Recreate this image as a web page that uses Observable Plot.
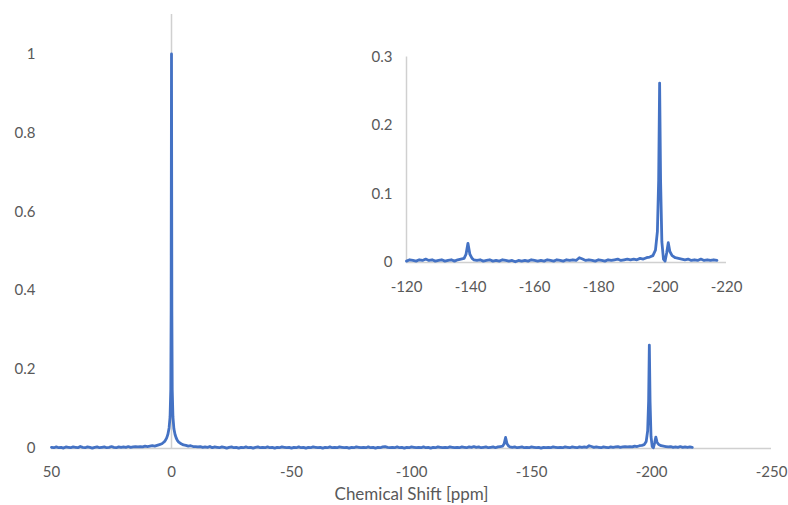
<!DOCTYPE html>
<html><head><meta charset="utf-8">
<script src="https://cdn.jsdelivr.net/npm/d3@7"></script>
<script src="https://cdn.jsdelivr.net/npm/@observablehq/plot@0.6"></script>
<style>
body{margin:0;background:#fff;}
#wrap{position:relative;width:788px;height:505px;}
#main{position:absolute;left:0;top:0;}
#inset{position:absolute;left:360px;top:30px;}
</style></head><body><div id="wrap"><div id="main"></div><div id="inset"></div></div>
<script>
// Chemical shift (ppm) sampled along the spectrum
const shift = [
  50,49,48,47,46,45,44,43,42,41,
  40,39,38,37,36,35,34,33,32,31,
  30,29,28,27,26,25,24,23,22,21,
  20,19,18,17,16,15,14,13,12,11,
  10,9,8,7,6,5,4,3,2.5,2,
  1.5,1,0.6,0.3,0.15,0,-0.15,-0.3,-0.6,-1,
  -1.5,-2,-2.5,-3,-4,-5,-6,-7,-8,-9,
  -10,-11,-12,-13,-14,-15,-16,-17,-18,-19,
  -20,-21,-22,-23,-24,-25,-26,-27,-28,-29,
  -30,-31,-32,-33,-34,-35,-36,-37,-38,-39,
  -40,-41,-42,-43,-44,-45,-46,-47,-48,-49,
  -50,-51,-52,-53,-54,-55,-56,-57,-58,-59,
  -60,-61,-62,-63,-64,-65,-66,-67,-68,-69,
  -70,-71,-72,-73,-74,-75,-76,-77,-78,-79,
  -80,-81,-82,-83,-84,-85,-86,-87,-88,-89,
  -90,-91,-92,-93,-94,-95,-96,-97,-98,-99,
  -100,-101,-102,-103,-104,-105,-106,-107,-108,-109,
  -110,-111,-112,-113,-114,-115,-116,-117,-118,-119,
  -120,-121,-122,-123,-124,-125,-126,-127,-128,-129,
  -130,-131,-132,-133,-134,-135,-136,-137,
  -138,-138.6,-139.2,-139.8,-140.5,-141,
  -142,-143,-144,-145,-146,-147,-148,-149,-150,-151,
  -152,-153,-154,-155,-156,-157,-158,-159,-160,-161,
  -162,-163,-164,-165,-166,-167,-168,-169,-170,-171,
  -172,-173,-174,-175,-176,-177,-178,-179,-180,-181,
  -182,-183,-184,-185,-186,-187,-188,-189,-190,-191,
  -192,-193,-194,-195,-196,
  -197,-197.8,-198.4,-198.8,-199.1,-199.4,-199.8,-200.3,-200.8,-201.3,
  -201.8,-202.3,-203,-204,-205,-206,-207,-208,-209,-210,
  -211,-212,-213,-214,-215,-216,-217
];
// Normalised intensity
const intensity = [
  .003,.002,.004,.002,.003,.001,.004,.003,.002,.004,
  .003,.002,.005,.003,.002,.004,.003,.001,.003,.004,
  .002,.003,.004,.002,.003,.005,.003,.002,.004,.003,
  .004,.003,.005,.003,.004,.005,.004,.005,.004,.006,
  .005,.006,.007,.006,.008,.010,.012,.017,.021,.027,
  .036,.052,.080,.150,.350,1.000,.350,.150,.080,.050,
  .035,.026,.020,.016,.012,.009,.008,.006,.007,.005,
  .005,.004,.005,.003,.004,.003,.005,.002,.004,.003,
  .002,.004,.003,.001,.003,.004,.002,.003,.001,.003,
  .002,.004,.002,.003,.001,.003,.004,.002,.003,.002,
  .004,.002,.003,.001,.003,.002,.004,.003,.002,.003,
  .001,.003,.002,.004,.002,.003,.001,.003,.002,.004,
  .003,.002,.003,.001,.003,.002,.004,.002,.003,.002,
  .004,.003,.002,.003,.001,.003,.002,.004,.003,.002,
  .003,.002,.004,.002,.003,.001,.003,.002,.004,.005,
  .003,.002,.003,.002,.004,.002,.003,.001,.003,.002,
  .004,.003,.002,.003,.002,.004,.002,.003,.001,.003,
  .002,.004,.003,.002,.003,.002,.004,.003,.002,.003,
  .002,.004,.003,.002,.004,.003,.005,.003,.004,.002,
  .003,.004,.002,.003,.004,.002,.004,.005,
  .006,.012,.028,.012,.006,.004,
  .003,.004,.002,.003,.004,.002,.003,.002,.004,.003,
  .002,.003,.001,.003,.002,.003,.002,.004,.003,.002,
  .003,.002,.004,.003,.002,.004,.003,.002,.004,.003,
  .004,.003,.007,.005,.003,.004,.003,.002,.004,.003,
  .002,.004,.003,.004,.005,.003,.004,.005,.004,.005,
  .004,.006,.005,.007,.008,
  .010,.018,.045,.120,.262,.120,.030,.005,.002,.014,
  .029,.016,.010,.007,.006,.005,.004,.005,.003,.004,
  .003,.005,.003,.004,.003,.004,.003
];
const mainXTicks = [50, 0, -50, -100, -150, -200, -250];
const mainYTicks = [0, 0.2, 0.4, 0.6, 0.8, 1];
const insetXTicks = [-120, -140, -160, -180, -200, -220];
const insetYTicks = [0, 0.1, 0.2, 0.3];
const xLabel = "Chemical Shift [ppm]";

const spectrum = shift.map((s, i) => ({shift: s, intensity: intensity[i]}));
const insetData = spectrum.filter(d => d.shift <= -120);

const axisColor = "#d0d0d0";
const lineColor = "#4472C4";
const textStyle = {fontFamily: "Lato, sans-serif", fontSize: "15px", color: "#595959", background: "transparent", overflow: "visible"};

const main = Plot.plot({
  width: 788, height: 505,
  marginLeft: 51, marginRight: 17, marginTop: 14, marginBottom: 57,
  x: {domain: [50, -250]},
  y: {domain: [0, 1.1]},
  style: textStyle,
  marks: [
    Plot.ruleY([0], {stroke: axisColor, strokeWidth: 1.5}),
    Plot.ruleX([0], {stroke: axisColor, strokeWidth: 1.5}),
    Plot.axisX({ticks: mainXTicks, tickSize: 0, tickPadding: 18, tickFormat: d => String(d), label: null}),
    Plot.axisY({ticks: mainYTicks, tickSize: 0, tickPadding: 16, tickFormat: d => String(d), label: null}),
    Plot.line(spectrum, {x: "shift", y: "intensity", stroke: lineColor, strokeWidth: 2.8, strokeLinejoin: "round"}),
    Plot.text([xLabel], {frameAnchor: "bottom", text: d => d, dy: 51, fontSize: 17, fill: "#595959"})
  ]
});
document.getElementById("main").appendChild(main);

const inset = Plot.plot({
  width: 410, height: 270,
  marginLeft: 46, marginRight: 44, marginTop: 26.5, marginBottom: 38,
  x: {domain: [-120, -220]},
  y: {domain: [0, 0.3]},
  style: textStyle,
  marks: [
    Plot.ruleY([0], {stroke: axisColor, strokeWidth: 1.5}),
    Plot.ruleX([-120], {stroke: axisColor, strokeWidth: 1.5}),
    Plot.axisX({ticks: insetXTicks, tickSize: 0, tickPadding: 19, tickFormat: d => String(d), label: null}),
    Plot.axisY({ticks: insetYTicks, tickSize: 0, tickPadding: 14, tickFormat: d => String(d), label: null}),
    Plot.line(insetData, {x: "shift", y: "intensity", stroke: lineColor, strokeWidth: 2.8, strokeLinejoin: "round"})
  ]
});
document.getElementById("inset").appendChild(inset);
</script></body></html>
